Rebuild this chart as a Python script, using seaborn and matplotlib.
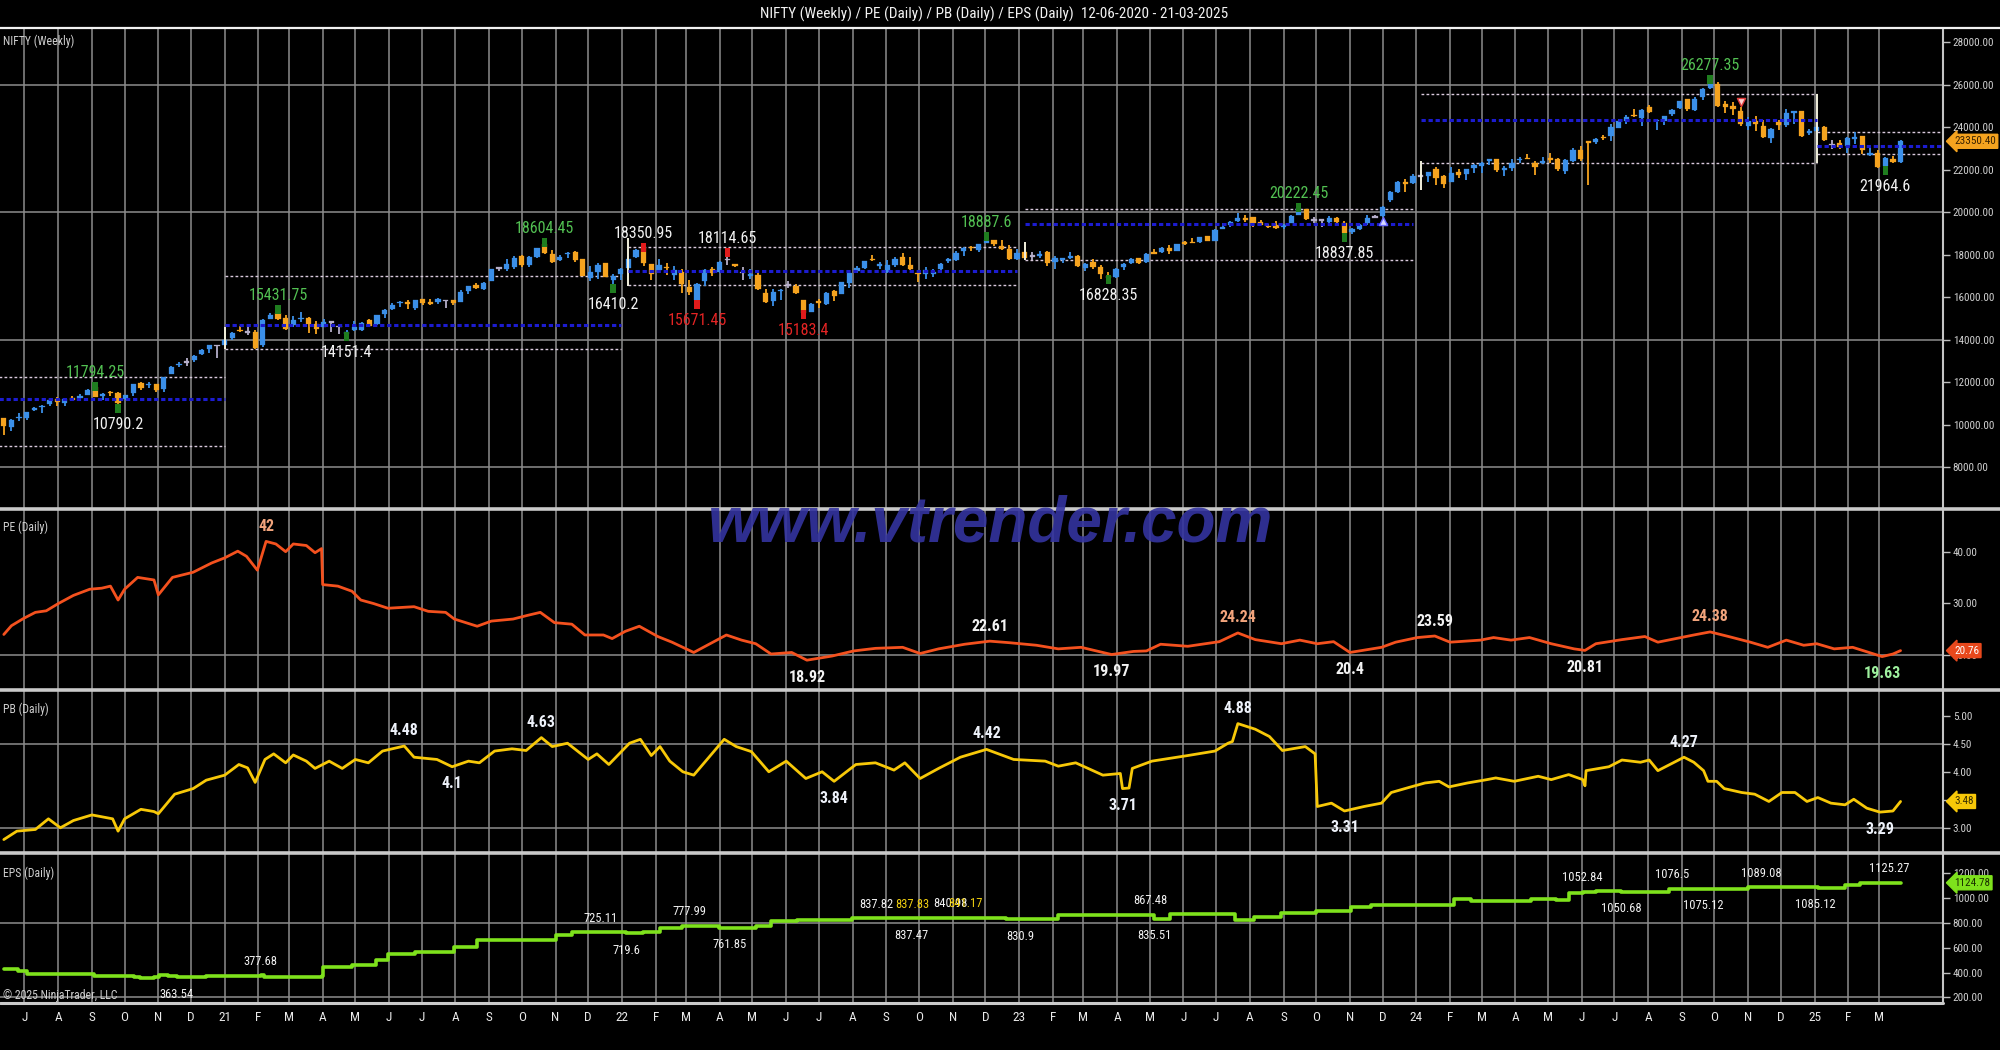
import numpy as np
import pandas as pd
import matplotlib
matplotlib.use("Agg")
import matplotlib.pyplot as plt
from matplotlib.lines import Line2D
from matplotlib.ticker import FuncFormatter
from matplotlib import font_manager
import seaborn as sns

# ------------------------------------------------------------------ data
title_text = "NIFTY (Weekly) / PE (Daily) / PB (Daily) / EPS (Daily)  12-06-2020 - 21-03-2025"
week_end = pd.date_range("2020-06-12", "2025-03-21", freq="7D")

week_open = [
    10326, 9919, 10318, 10311, 10723, 10851, 10999, 11225, 11057, 11270,
    11248, 11419, 11777, 11355, 11539, 11503, 11224, 11503, 11973, 11874,
    11937, 11697, 12399, 12829, 12960, 13062, 13356, 13562, 13741,
    13750, 14104, 14474, 14371, 14359, 13758, 14999, 15270, 15058, 14702,
    14999, 15048, 14736, 14628, 14837, 14644, 14306, 14449, 14481, 14928,
    14756, 15211, 15437, 15725, 15791, 15525, 15915, 15794, 15766, 15876,
    15874, 15776, 16302, 16578, 16382, 16775, 17400, 17363, 17443, 17962,
    17531, 17915, 18500, 18051, 17783, 18040, 18140, 17796, 16912, 17209,
    17619, 16824, 17086,
    17387, 17913, 18308, 17575, 17301, 17456, 17076, 17193, 16515, 15867,
    16757, 17329, 17181, 17810, 17576, 17183, 17006, 17062, 16227, 15845,
    16290, 16578, 16530, 15877, 15334, 15835, 15710, 16283, 16151, 16662,
    17243, 17401, 17797, 17491, 17188, 17546, 17890, 17540, 17156, 17102,
    17094, 17322, 17736, 17786, 18211, 18377, 18246, 18552, 18719, 18402,
    18288, 17831,
    18131, 17952, 17930, 18119, 17649, 17790, 17847, 17965, 17383, 17680,
    17421, 16985, 16978, 17428, 17634, 17863, 17653, 18124, 18121, 18339,
    18201, 18594, 18612, 18595, 18873, 18682, 19246, 19400, 19612, 19748,
    19784, 19576, 19383, 19393, 19298, 19525, 19890, 20155, 19675, 19622,
    19539, 19737, 19521, 19064, 19241, 19487, 19796, 19845, 20602, 20965,
    21434, 21365,
    21727, 21705, 22053, 21716, 21433, 21921, 21790, 22096, 22170, 22403,
    22517, 21990, 22097, 22455, 22579, 22339, 22337, 22568, 22513, 21931,
    22404, 22960, 23337, 23320, 23575, 23577, 23992, 24329, 24587, 24445,
    24943, 24303, 24320, 24636, 24906, 25333, 24823, 25426, 25872, 26061,
    25084, 25023, 24798, 24074, 24304, 24087, 23503, 24253, 24140, 24671,
    24753, 23738,
    23813, 24045, 23196, 23290, 23125, 23439, 23590, 22710, 22820, 22194,
    22521, 22353,
]
week_high = [
    10328, 10272, 10553, 10631, 10847, 10934, 11225, 11341, 11256, 11373,
    11460, 11686, 11794, 11493, 11618, 11535, 11428, 11938, 12025, 12018,
    11942, 12280, 12770, 12963, 13145, 13280, 13579, 13773, 13777,
    14049, 14367, 14653, 14753, 14491, 14974, 15257, 15432, 15176, 15111,
    15336, 15092, 14878, 14984, 14879, 14652, 14491, 14890, 14863, 14967,
    15189, 15469, 15733, 15835, 15901, 15870, 15915, 15915, 15962, 15881,
    15899, 16349, 16543, 16701, 16722, 17340, 17429, 17792, 17947, 17980,
    17941, 18350, 18604, 18242, 18012, 18123, 18210, 17805, 17489, 17639,
    17639, 17118, 17400,
    17944, 18286, 18351, 17599, 17794, 17639, 17490, 17351, 16815, 16694,
    17344, 17442, 17703, 18115, 17595, 17414, 17322, 17132, 16404, 16400,
    16414, 16794, 16644, 15886, 15749, 15927, 16275, 16355, 16752, 17172,
    17490, 17724, 17992, 17685, 17777, 17925, 18096, 17919, 17187, 17428,
    17348, 17607, 17838, 18175, 18362, 18442, 18534, 18888, 18728, 18696,
    18473, 18265,
    18251, 18127, 18183, 18201, 17972, 17881, 18134, 18004, 17644, 17799,
    17529, 17207, 17381, 17638, 17842, 17863, 18089, 18267, 18389, 18458,
    18508, 18662, 18777, 18864, 18887, 19201, 19523, 19595, 19991, 19867,
    19795, 19645, 19465, 19584, 19458, 19867, 20222, 20167, 19766, 19660,
    19849, 19781, 19593, 19276, 19463, 19875, 19876, 20291, 21006, 21492,
    21593, 21801,
    21834, 21928, 22124, 21750, 22127, 22053, 22069, 22297, 22353, 22526,
    22527, 22180, 22516, 22619, 22775, 22427, 22625, 22794, 22588, 22502,
    23026, 23110, 23338, 23490, 23667, 24174, 24401, 24592, 24854, 24861,
    25078, 24382, 24563, 24867, 25268, 25333, 25433, 25849, 26277, 26135,
    25234, 25212, 24978, 24498, 24537, 24336, 23956, 24354, 24857, 24793,
    24781, 23938,
    24226, 24089, 23391, 23426, 23546, 23807, 23596, 23050, 22922, 22633,
    22676, 23403,
]
week_low = [
    9544, 9728, 10194, 10223, 10677, 10562, 10916, 10882, 10882, 11111,
    11144, 11419, 11303, 11185, 11349, 10790, 11184, 11370, 11661, 11723,
    11535, 11557, 12384, 12730, 12790, 12962, 13291, 13402, 13131,
    13735, 14022, 14357, 14222, 13596, 13662, 14977, 14936, 14467, 14635,
    14865, 14350, 14264, 14617, 14359, 14273, 14151, 14416, 14416, 14591,
    14723, 15043, 15405, 15566, 15450, 15405, 15636, 15632, 15707, 15513,
    15660, 15776, 16162, 16395, 16376, 16764, 17254, 17269, 17338, 17452,
    17452, 17865, 18034, 17613, 17697, 17836, 17688, 17026, 16782, 16891,
    16966, 16410, 16833,
    17383, 17879, 17485, 16837, 17244, 17069, 16809, 16203, 16134, 15671,
    16555, 17007, 17135, 17506, 17442, 16824, 16888, 16340, 15735, 15601,
    15903, 16444, 16172, 15183, 15300, 15511, 15661, 15858, 16142, 16438,
    17154, 17359, 17710, 17345, 17166, 17429, 17499, 17291, 16747, 16855,
    16950, 17314, 17637, 17700, 17969, 18209, 18133, 18552, 18410, 18255,
    17779, 17774,
    17795, 17774, 17854, 17493, 17353, 17616, 17800, 17421, 17256, 17324,
    16850, 16828, 16940, 17313, 17597, 17553, 17612, 18042, 18116, 18060,
    18178, 18464, 18545, 18578, 18647, 18647, 19234, 19300, 19563, 19563,
    19296, 19412, 19257, 19229, 19223, 19491, 19865, 19657, 19492, 19333,
    19480, 19518, 18838, 18973, 19160, 19414, 19768, 19768, 20501, 20923,
    20976, 21329,
    21500, 21448, 21285, 21137, 21429, 21629, 21530, 21875, 21860, 22224,
    21905, 21710, 21947, 22350, 22503, 21777, 22305, 22348, 21932, 21821,
    22377, 22417, 21281, 23206, 23398, 23350, 23992, 24141, 24504, 24074,
    24686, 23893, 24100, 24532, 24859, 24753, 24753, 25285, 25835, 24966,
    24694, 24567, 24073, 23893, 23816, 23509, 23263, 23873, 24008, 24180,
    23537, 23647,
    23460, 23344, 22976, 22981, 22787, 23222, 22775, 22681, 22105, 21965,
    22314, 22315,
]
week_close = [
    9972, 10244, 10383, 10607, 10768, 10902, 11194, 11073, 11214, 11178,
    11371, 11647, 11333, 11464, 11505, 11050, 11417, 11914, 11762, 11930,
    11642, 12263, 12720, 12859, 12968, 13258, 13514, 13760, 13749,
    14018, 14347, 14433, 14371, 13634, 14924, 15163, 14981, 14529, 14938,
    15031, 14744, 14507, 14867, 14834, 14617, 14341, 14631, 14823, 14677,
    15175, 15435, 15670, 15799, 15683, 15860, 15722, 15690, 15924, 15856,
    15763, 16238, 16529, 16451, 16705, 17324, 17369, 17585, 17853, 17532,
    17895, 18338, 18114, 17671, 17916, 18102, 17765, 17026, 17196, 17511,
    16985, 17003, 17354,
    17812, 18255, 17617, 17102, 17516, 17375, 17276, 16658, 16245, 16630,
    17287, 17153, 17670, 17784, 17476, 17172, 17103, 16411, 15782, 16266,
    16352, 16584, 16202, 15293, 15699, 15752, 16220, 16049, 16719, 17158,
    17397, 17698, 17758, 17558, 17539, 17833, 17531, 17327, 17094, 17315,
    17186, 17576, 17787, 18117, 18350, 18308, 18512, 18696, 18496, 18269,
    17806, 18105,
    17859, 17956, 18027, 17604, 17854, 17856, 17944, 17465, 17594, 17413,
    17100, 16945, 17359, 17599, 17828, 17624, 18065, 18069, 18315, 18203,
    18499, 18534, 18563, 18826, 18665, 19189, 19331, 19564, 19745, 19646,
    19517, 19428, 19310, 19265, 19435, 19820, 20192, 19674, 19638, 19654,
    19751, 19542, 19047, 19230, 19425, 19732, 19795, 20267, 20970, 21457,
    21349, 21731,
    21711, 21895, 21622, 21353, 21854, 21783, 22041, 22213, 22339, 22494,
    22023, 22097, 22327, 22514, 22519, 22147, 22420, 22476, 22055, 22466,
    22957, 22531, 23290, 23465, 23501, 24010, 24323, 24502, 24530, 24834,
    24717, 24367, 24541, 24823, 25236, 24852, 25356, 25791, 26179, 25015,
    24964, 24854, 24181, 24304, 24148, 23533, 23907, 24131, 24677, 24768,
    23587, 23813,
    24005, 23431, 23203, 23092, 23508, 23560, 22929, 22795, 22125, 22553,
    22397, 23350.40,
]

# swing highs / lows marked on the chart
swing_dates = ["2020-09-04", "2020-09-25", "2021-02-19", "2021-04-23", "2021-10-22",
               "2021-12-24", "2022-01-21", "2022-03-11", "2022-04-08", "2022-06-17",
               "2022-12-02", "2023-03-24", "2023-09-15", "2023-10-27", "2024-09-27",
               "2025-03-07"]
swing_side = ["H", "L", "H", "L", "H", "L", "H", "L", "H", "L", "H", "L", "H", "L", "H", "L"]
swing_mark = ["g", "g", "g", "g", "g", "g", "r", "r", "r", "r", "g", "g", "g", "g", "g", "g"]
swing_text = ["11794.25", "10790.2", "15431.75", "14151.4", "18604.45", "16410.2",
              "18350.95", "15671.45", "18114.65", "15183.4", "18887.6", "16828.35",
              "20222.45", "18837.85", "26277.35", "21964.6"]
swing_text_col = ["g", "w", "g", "w", "g", "w", "w", "r", "w", "r", "g", "w", "g", "w", "g", "w"]

# yearly range boxes (top dotted, mid blue dashed, bottom dotted)
box_start = ["2020-06-08", "2021-01-01", "2022-01-07", "2023-01-06", "2024-01-05", "2025-01-03"]
box_end = ["2021-01-01", "2021-12-31", "2022-12-30", "2023-12-29", "2025-01-03", "2025-04-29"]
box_top = [12245, 17012, 18376, 20179, 25591, 23802]
box_mid = [11224, 14706, 17247, 19445, 24353, 23144]
box_bot = [9012, 13576, 16588, 17765, 22329, 22767]
edge_dates = ["2021-01-01", "2022-01-07", "2023-01-06", "2024-01-05", "2025-01-03"]
edge_low = [13576, 16541, 17765, 21059, 22329]
edge_high = [14612, 18800, 18600, 22424, 25591]
tri_up_date, tri_up_price = "2023-12-01", 19614
tri_dn_date, tri_dn_price = "2024-10-25", 25200

# PE (daily)
pe_dates = ["2020-06-12", "2020-06-19", "2020-06-30", "2020-07-11", "2020-07-21", "2020-08-01",
            "2020-08-15", "2020-08-30", "2020-09-10", "2020-09-18", "2020-09-25", "2020-10-01",
            "2020-10-13", "2020-10-28", "2020-11-01", "2020-11-14", "2020-12-03", "2020-12-20",
            "2021-01-01", "2021-01-13", "2021-01-21", "2021-01-31", "2021-02-08", "2021-02-17",
            "2021-02-26", "2021-03-05", "2021-03-17", "2021-03-25", "2021-03-31", "2021-04-01",
            "2021-04-15", "2021-04-28", "2021-05-06", "2021-05-18", "2021-05-31", "2021-06-24",
            "2021-07-07", "2021-07-23", "2021-07-31", "2021-08-21", "2021-09-03", "2021-09-23",
            "2021-10-06", "2021-10-18", "2021-10-31", "2021-11-16", "2021-11-28", "2021-12-15",
            "2021-12-23", "2022-01-04", "2022-01-17", "2022-02-03", "2022-02-16", "2022-03-08",
            "2022-03-23", "2022-04-07", "2022-04-21", "2022-05-04", "2022-05-18", "2022-06-06",
            "2022-06-20", "2022-07-13", "2022-08-02", "2022-08-22", "2022-09-16", "2022-10-02",
            "2022-10-19", "2022-11-12", "2022-12-05", "2022-12-23", "2023-01-17", "2023-02-06",
            "2023-02-27", "2023-03-27", "2023-04-16", "2023-04-28", "2023-05-11", "2023-06-05",
            "2023-07-04", "2023-07-21", "2023-08-06", "2023-08-30", "2023-09-16", "2023-10-02",
            "2023-10-17", "2023-11-01", "2023-11-30", "2023-12-13", "2024-01-02", "2024-01-18",
            "2024-02-01", "2024-02-29", "2024-03-12", "2024-03-28", "2024-04-14", "2024-05-04",
            "2024-05-25", "2024-06-04", "2024-06-14", "2024-07-08", "2024-07-29", "2024-08-10",
            "2024-09-12", "2024-09-27", "2024-10-14", "2024-11-03", "2024-11-19", "2024-12-06",
            "2024-12-22", "2025-01-03", "2025-01-19", "2025-02-05", "2025-03-04", "2025-03-14",
            "2025-03-21"]
pe_values = [23.9, 25.6, 27.0, 28.2, 28.5, 29.9,
             31.5, 32.7, 32.9, 33.3, 30.6, 32.7,
             35.0, 34.5, 31.6, 35.0, 36.0, 37.8,
             38.8, 40.1, 39.1, 36.4, 42.0, 41.5,
             40.0, 41.5, 41.2, 39.8, 40.6, 33.6,
             33.3, 32.3, 30.6, 29.9, 29.0, 29.3,
             28.4, 28.2, 26.9, 25.5, 26.5, 26.9,
             27.6, 28.2, 26.2, 25.9, 23.8, 23.8,
             23.1, 24.5, 25.5, 23.5, 22.4, 20.4,
             22.1, 23.8, 22.8, 22.1, 20.1, 20.4,
             18.9, 19.7, 20.7, 21.2, 21.4, 20.2,
             21.1, 22.0, 22.6, 22.3, 21.8, 21.1,
             21.4, 20.0, 20.6, 20.7, 22.0, 21.6,
             22.5, 24.2, 22.9, 22.1, 22.8, 22.1,
             22.5, 20.4, 21.4, 22.4, 23.3, 23.6,
             22.4, 22.8, 23.3, 22.8, 23.3, 22.1,
             21.1, 20.8, 22.1, 22.9, 23.5, 22.4,
             23.8, 24.4, 23.5, 22.4, 21.4, 22.8,
             21.8, 22.1, 21.1, 21.4, 19.6, 20.1,
             20.76]
pe_lab_dates = ["2021-02-08", "2022-06-20", "2022-12-05", "2023-03-27", "2023-07-21",
                "2023-11-01", "2024-01-18", "2024-06-04", "2024-09-27", "2025-03-04"]
pe_lab_vals = [42, 18.92, 22.61, 19.97, 24.24, 20.4, 23.59, 20.81, 24.38, 19.63]
pe_lab_text = ["42", "18.92", "22.61", "19.97", "24.24", "20.4", "23.59", "20.81", "24.38", "19.63"]
pe_lab_side = ["H", "L", "H", "L", "H", "L", "H", "L", "H", "L"]
pe_lab_col = ["s", "w", "w", "w", "s", "w", "w", "w", "s", "lg"]

# PB (daily)
pb_dates = ["2020-06-12", "2020-06-24", "2020-07-11", "2020-07-23", "2020-08-03", "2020-08-15",
            "2020-09-01", "2020-09-20", "2020-09-25", "2020-10-01", "2020-10-16", "2020-10-28",
            "2020-11-01", "2020-11-16", "2020-12-03", "2020-12-15", "2021-01-01", "2021-01-14",
            "2021-01-22", "2021-01-29", "2021-02-07", "2021-02-15", "2021-02-26", "2021-03-05",
            "2021-03-17", "2021-03-25", "2021-04-07", "2021-04-19", "2021-05-01", "2021-05-13",
            "2021-05-26", "2021-06-15", "2021-06-24", "2021-07-15", "2021-07-29", "2021-08-13",
            "2021-08-23", "2021-09-06", "2021-09-22", "2021-10-05", "2021-10-19", "2021-10-29",
            "2021-11-12", "2021-12-01", "2021-12-09", "2021-12-20", "2021-12-28", "2022-01-08",
            "2022-01-18", "2022-01-28", "2022-02-05", "2022-02-14", "2022-02-26", "2022-03-08",
            "2022-03-22", "2022-04-05", "2022-04-16", "2022-04-30", "2022-05-16", "2022-06-01",
            "2022-06-19", "2022-07-04", "2022-07-15", "2022-08-04", "2022-08-22", "2022-09-08",
            "2022-09-18", "2022-10-02", "2022-10-19", "2022-11-08", "2022-12-02", "2022-12-27",
            "2023-01-25", "2023-02-06", "2023-02-22", "2023-03-19", "2023-04-04", "2023-04-06",
            "2023-04-12", "2023-04-15", "2023-05-03", "2023-06-05", "2023-06-30", "2023-07-12",
            "2023-07-16", "2023-07-21", "2023-08-06", "2023-08-19", "2023-08-31", "2023-09-21",
            "2023-09-30", "2023-10-02", "2023-10-15", "2023-10-27", "2023-11-14", "2023-11-30",
            "2023-12-09", "2023-12-27", "2024-01-09", "2024-01-22", "2024-01-31", "2024-02-17",
            "2024-03-06", "2024-03-14", "2024-03-31", "2024-04-22", "2024-05-04", "2024-05-20",
            "2024-06-02", "2024-06-04", "2024-06-05", "2024-06-14", "2024-06-26", "2024-07-08",
            "2024-07-25", "2024-08-02", "2024-08-10", "2024-08-22", "2024-09-03", "2024-09-12",
            "2024-09-21", "2024-09-25", "2024-10-03", "2024-10-10", "2024-10-26", "2024-11-07",
            "2024-11-20", "2024-12-02", "2024-12-14", "2024-12-25", "2025-01-04", "2025-01-16",
            "2025-01-29", "2025-02-06", "2025-02-18", "2025-03-02", "2025-03-14", "2025-03-21"]
pb_values = [2.80, 2.95, 2.98, 3.17, 3.01, 3.14,
             3.24, 3.17, 2.95, 3.17, 3.34, 3.30,
             3.26, 3.61, 3.71, 3.86, 3.95, 4.14,
             4.08, 3.82, 4.23, 4.33, 4.17, 4.31,
             4.20, 4.07, 4.20, 4.07, 4.23, 4.17,
             4.38, 4.47, 4.27, 4.23, 4.10, 4.20,
             4.17, 4.38, 4.42, 4.39, 4.62, 4.46,
             4.52, 4.23, 4.33, 4.14, 4.30, 4.52,
             4.59, 4.30, 4.46, 4.20, 4.01, 3.95,
             4.27, 4.59, 4.46, 4.37, 4.01, 4.20,
             3.89, 4.01, 3.84, 4.14, 4.17, 4.04,
             4.17, 3.89, 4.07, 4.27, 4.41, 4.23,
             4.20, 4.11, 4.17, 3.95, 3.98, 3.71,
             3.72, 4.07, 4.20, 4.30, 4.38, 4.52,
             4.55, 4.87, 4.77, 4.64, 4.39, 4.46,
             4.33, 3.39, 3.45, 3.31, 3.39, 3.45,
             3.64, 3.74, 3.81, 3.84, 3.74, 3.81,
             3.87, 3.90, 3.84, 3.93, 3.87, 3.96,
             3.87, 3.76, 4.03, 4.06, 4.10, 4.22,
             4.18, 4.22, 4.03, 4.15, 4.27, 4.18,
             4.03, 3.84, 3.84, 3.71, 3.64, 3.61,
             3.48, 3.64, 3.64, 3.48, 3.55, 3.45,
             3.42, 3.52, 3.36, 3.29, 3.31, 3.48]
pb_lab_dates = ["2021-06-15", "2021-07-29", "2021-10-19", "2022-07-15", "2022-12-02",
                "2023-04-06", "2023-07-21", "2023-10-27", "2024-09-03", "2025-03-02"]
pb_lab_vals = [4.48, 4.10, 4.63, 3.84, 4.42, 3.71, 4.88, 3.31, 4.27, 3.29]
pb_lab_text = ["4.48", "4.1", "4.63", "3.84", "4.42", "3.71", "4.88", "3.31", "4.27", "3.29"]
pb_lab_side = ["H", "L", "H", "L", "H", "L", "H", "L", "H", "L"]

# EPS (daily)
eps_dates = ["2020-06-12", "2020-06-25", "2020-07-03", "2020-08-01", "2020-09-03", "2020-10-10",
             "2020-10-15", "2020-10-28", "2020-11-02", "2020-11-10", "2020-11-18", "2020-12-15",
             "2021-01-20", "2021-02-03", "2021-02-06", "2021-03-31", "2021-04-01", "2021-04-28",
             "2021-05-20", "2021-05-31", "2021-06-25", "2021-07-23", "2021-07-31", "2021-08-21",
             "2021-10-15", "2021-11-01", "2021-11-16", "2021-12-10", "2022-01-05", "2022-01-20",
             "2022-02-05", "2022-02-25", "2022-03-25", "2022-03-31", "2022-04-15", "2022-05-04",
             "2022-05-18", "2022-06-11", "2022-07-31", "2022-08-22", "2022-09-24", "2022-10-20",
             "2022-11-11", "2022-12-20", "2023-01-02", "2023-02-06", "2023-04-16", "2023-05-02",
             "2023-05-05", "2023-05-20", "2023-07-15", "2023-07-18", "2023-08-05", "2023-08-30",
             "2023-10-01", "2023-10-25", "2023-11-02", "2023-11-20", "2024-01-16", "2024-02-05",
             "2024-02-20", "2024-04-15", "2024-05-08", "2024-05-20", "2024-06-02", "2024-06-14",
             "2024-07-07", "2024-08-20", "2024-09-15", "2024-09-21", "2024-10-20", "2024-11-01",
             "2024-12-25", "2025-01-04", "2025-01-29", "2025-02-12", "2025-03-21"]
eps_values = [426, 410, 392, 385, 372, 366,
              360, 364, 378, 372, 364, 370,
              374, 378, 368, 369, 449, 463,
              505, 548, 563, 568, 605, 663,
              663, 705, 725, 725, 720, 728,
              757, 778, 778, 762, 764, 776,
              819, 825, 838, 838, 837.5, 840,
              841, 836, 831, 862, 862, 867.5,
              835.5, 876, 876, 821, 850, 882,
              899, 899, 933, 947, 947, 990,
              976, 990, 984, 1041, 1053, 1061,
              1051, 1076.5, 1076, 1075, 1076, 1089,
              1089, 1085, 1104, 1125, 1124.78]
eps_lab_dates = ["2021-02-03", "2020-11-18", "2021-12-12", "2022-01-05", "2022-03-04",
                 "2022-04-10", "2022-08-23", "2022-09-25", "2022-10-30", "2022-11-13",
                 "2022-09-24", "2023-01-02", "2023-05-02", "2023-05-05", "2024-06-02",
                 "2024-07-07", "2024-08-23", "2024-09-21", "2024-11-13", "2025-01-02",
                 "2025-03-11"]
eps_lab_vals = [377.68, 363.54, 725.11, 719.6, 777.99, 761.85, 837.82, 837.83, 840.98, 841.17,
                837.47, 830.9, 867.48, 835.51, 1052.84, 1050.68, 1076.5, 1075.12, 1089.08,
                1085.12, 1125.27]
eps_lab_text = ["377.68", "363.54", "725.11", "719.6", "777.99", "761.85", "837.82", "837.83",
                "840.98", "841.17", "837.47", "830.9", "867.48", "835.51", "1052.84", "1050.68",
                "1076.5", "1075.12", "1089.08", "1085.12", "1125.27"]
eps_lab_side = ["H", "L", "H", "L", "H", "L", "H", "H", "H", "H", "L", "L", "H", "L", "H",
                "L", "H", "L", "H", "L", "H"]
eps_lab_col = ["w", "w", "w", "w", "w", "w", "w", "y", "w", "y", "w", "w", "w", "w", "w",
               "w", "w", "w", "w", "w", "w"]

month_starts = pd.date_range("2020-07-01", "2025-03-01", freq="MS")
x_left, x_right = pd.Timestamp("2020-06-08 12:00"), pd.Timestamp("2025-04-29")

# ------------------------------------------------------------------ style
sns.set_theme(style="dark", rc={"axes.facecolor": "black", "figure.facecolor": "black",
                                "axes.grid": False, "savefig.facecolor": "black"})
avail = {f.name for f in font_manager.fontManager.ttflist}
NARROW = None
for cand in ["Liberation Sans Narrow", "Roboto Condensed", "DejaVu Sans Condensed",
             "Open Sans Condensed"]:
    if cand in avail:
        NARROW = cand
        break
SC = 1.0
if NARROW is None:
    NARROW = "Liberation Sans" if "Liberation Sans" in avail else "DejaVu Sans"
    SC = 0.84
plt.rcParams["font.family"] = [NARROW, "DejaVu Sans"]

BLUE, ORANGE, DOJI = "#3b8fe8", "#f5a31f", "#b5aec9"
MK_G, MK_R = "#1f7d1f", "#e01b1b"
TXT = {"g": "#52c052", "w": "#f2f2f2", "r": "#e42424", "s": "#f2a47c", "lg": "#9ef09e",
       "y": "#f0cf10"}
GRID = "#8c8c8c"
SEP = "#c9c9c9"
PE_COL, PB_COL, EPS_COL = "#f4511e", "#f7c808", "#7ee21c"

W, H = 2000, 1050
XR = 1943
fig = plt.figure(figsize=(W / 100, H / 100), dpi=100, facecolor="black")


def panel(top, bottom, share=None):
    ax = fig.add_axes([0, 1 - bottom / H, XR / W, (bottom - top) / H], sharex=share)
    ax.set_facecolor("black")
    return ax


P1, P2, P3, P4, P5 = 29, 509, 690, 853, 1003
ax1 = panel(P1, P2)
ax2 = panel(P2, P3, ax1)
ax3 = panel(P3, P4, ax1)
ax4 = panel(P4, P5, ax1)
axes = [ax1, ax2, ax3, ax4]

# ------------------------------------------------------------------ candles
o = np.array(week_open, float)
hi = np.array(week_high, float)
lo = np.array(week_low, float)
c = np.array(week_close, float)
diff = np.abs(c - o)
MIN_BODY = 70.0
is_doji = diff < 0.002 * c
col = np.where(is_doji, DOJI, np.where(c > o, BLUE, ORANGE))
body_h = np.maximum(diff, MIN_BODY)
body_b = np.where(diff < MIN_BODY, (o + c) / 2 - MIN_BODY / 2, np.minimum(o, c))
ax1.vlines(week_end, lo, hi, colors=col, lw=1.3, zorder=3)
ax1.bar(week_end, body_h, bottom=body_b, width=4.8, color=col, edgecolor=col, lw=0.2, zorder=3.2)

# range boxes
for s, e, t, m, b in zip(box_start, box_end, box_top, box_mid, box_bot):
    s, e = pd.Timestamp(s), pd.Timestamp(e)
    ax1.plot([s, e], [t, t], color="#d9c9dc", lw=1.0, ls=(0, (2.0, 1.6)), zorder=2)
    ax1.plot([s, e], [b, b], color="#d9c9dc", lw=1.0, ls=(0, (2.0, 1.6)), zorder=2)
    ax1.plot([s, e], [m, m], color="#1c1cd0", lw=2.2, ls=(0, (1.4, 0.9)), zorder=4)
ax1.vlines(pd.to_datetime(edge_dates), edge_low, edge_high, colors="#f2f0dc", lw=1.4, zorder=3.5)

# swing markers and labels
MARK_H = 430.0
for d, side, mk, txt, tc in zip(swing_dates, swing_side, swing_mark, swing_text, swing_text_col):
    i = week_end.get_loc(pd.Timestamp(d))
    v = hi[i] if side == "H" else lo[i]
    mc = MK_G if mk == "g" else MK_R
    ax1.bar(week_end[i], MARK_H, bottom=v - MARK_H / 2, width=5.0, color=mc, edgecolor=mc,
            linewidth=0, zorder=5)
    ax1.annotate(txt, xy=(week_end[i], v), xytext=(0, 14 if side == "H" else -16),
                 textcoords="offset pixels", ha="center", va="center", color=TXT[tc],
                 fontsize=11.5 * SC, zorder=7, annotation_clip=False)

ax1.scatter([pd.Timestamp(tri_up_date)], [tri_up_price], marker="^", s=34,
            facecolor="#d8d8ff", edgecolor="#6a6aff", lw=1.0, zorder=6)
ax1.scatter([pd.Timestamp(tri_dn_date)], [tri_dn_price], marker="v", s=34,
            facecolor="#ffd0d0", edgecolor="#e03a3a", lw=1.0, zorder=6)

# ------------------------------------------------------------------ lines (seaborn)
sns.lineplot(x=pd.to_datetime(pe_dates), y=pe_values, ax=ax2, color=PE_COL, linewidth=2.0,
             estimator=None, zorder=3)
sns.lineplot(x=pd.to_datetime(pb_dates), y=pb_values, ax=ax3, color=PB_COL, linewidth=2.0,
             estimator=None, zorder=3)
sns.lineplot(x=pd.to_datetime(eps_dates), y=eps_values, ax=ax4, color=EPS_COL, linewidth=2.6,
             estimator=None, drawstyle="steps-post", zorder=3)

for d, v, t, sd, cc in zip(pe_lab_dates, pe_lab_vals, pe_lab_text, pe_lab_side, pe_lab_col):
    ax2.annotate(t, xy=(pd.Timestamp(d), v), xytext=(0, 15 if sd == "H" else -17),
                 textcoords="offset pixels", ha="center", va="center", color=TXT[cc],
                 fontsize=11.5 * SC, fontweight="bold", zorder=7, annotation_clip=False)
for d, v, t, sd in zip(pb_lab_dates, pb_lab_vals, pb_lab_text, pb_lab_side):
    ax3.annotate(t, xy=(pd.Timestamp(d), v), xytext=(0, 15 if sd == "H" else -17),
                 textcoords="offset pixels", ha="center", va="center", color="#eef2fa",
                 fontsize=11.5 * SC, fontweight="bold", zorder=7, annotation_clip=False)
for d, v, t, sd, cc in zip(eps_lab_dates, eps_lab_vals, eps_lab_text, eps_lab_side, eps_lab_col):
    ax4.annotate(t, xy=(pd.Timestamp(d), v), xytext=(0, 14 if sd == "H" else -17),
                 textcoords="offset pixels", ha="center", va="center", color=TXT[cc],
                 fontsize=9 * SC, zorder=7, annotation_clip=False)

# ------------------------------------------------------------------ axes styling
ylims = [(6047, 28635), (13.1, 48.3), (2.56, 5.47), (155, 1365)]
yticks = [np.arange(8000, 28001, 2000), [20, 30, 40], [3.0, 3.5, 4.0, 4.5, 5.0],
          np.arange(200, 1201, 200)]
hgrid = [[8000, 14000, 20000, 26000], [20], [3.0, 4.5], [200, 800]]
for ax, yl, yt, hg in zip(axes, ylims, yticks, hgrid):
    ax.set_xlabel("")
    ax.set_ylabel("")
    ax.set_ylim(*yl)
    ax.set_yticks(yt)
    ax.yaxis.set_major_formatter(FuncFormatter(lambda v, p: f"{v:.2f}"))
    ax.yaxis.tick_right()
    ax.tick_params(axis="y", which="both", direction="out", length=5, width=1,
                   color="#bdbdbd", labelcolor="#cfcfcf", labelsize=8 * SC, pad=2,
                   left=False, right=True)
    for s in ["top", "bottom", "left"]:
        ax.spines[s].set_visible(False)
    ax.spines["right"].set_color("#c4c4c4")
    ax.spines["right"].set_linewidth(1.5)
    ax.set_xticks(month_starts)
    ax.tick_params(axis="x", length=0, labelbottom=False)
    for m in month_starts:
        ax.axvline(m, color=GRID, lw=1.1, zorder=0.5)
    for g in hg:
        ax.axhline(g, color=GRID, lw=1.1, zorder=0.5)
    ax.grid(False)

ax1.set_xlim(x_left, x_right)
month_labels = [f"{m.year % 100:02d}" if m.month == 1 else "JFMAMJJASOND"[m.month - 1]
                for m in month_starts]
ax4.set_xticks(month_starts)
ax4.set_xticklabels(month_labels)
ax4.tick_params(axis="x", length=0, labelbottom=True, labelcolor="#e8e8e8",
                labelsize=9.5 * SC, pad=6)

# panel names
for ax, name, dy in [(ax1, "NIFTY (Weekly)", -12), (ax2, "PE (Daily)", -18),
                     (ax3, "PB (Daily)", -19), (ax4, "EPS (Daily)", -20)]:
    ax.annotate(name, xy=(0, 1), xycoords="axes fraction", xytext=(3, dy),
                textcoords="offset pixels", ha="left", va="center", color="#cfcfcf",
                fontsize=8.5 * SC)
ax4.annotate("\u00a9 2025 NinjaTrader, LLC", xy=(0, 0), xycoords="axes fraction",
             xytext=(3, 7), textcoords="offset pixels", ha="left", va="center",
             color="#cfcfcf", fontsize=8.5 * SC)


# right-hand value tags
def tag(ax, v, fc, tc):
    ax.annotate(f"{v:.2f}", xy=(1, v), xycoords=("axes fraction", "data"), xytext=(11, 0),
                textcoords="offset pixels", ha="left", va="center", fontsize=8 * SC, color=tc,
                bbox=dict(boxstyle="larrow,pad=0.18", fc=fc, ec=fc), annotation_clip=False,
                zorder=10)


tag(ax1, week_close[-1], "#f5a31f", "#3a2200")
tag(ax2, pe_values[-1], "#e8481c", "#ffffff")
tag(ax3, pb_values[-1], "#f7c808", "#3a3000")
tag(ax4, eps_values[-1], "#7ee21c", "#1a3000")

# separators / frame
for ypx, x1, colr, lw in [(28, 1.0, "#f2f2f2", 1.6), (P2, 1.0, SEP, 2.6), (P3, 1.0, SEP, 2.6),
                          (P4, 1.0, SEP, 2.6), (P5, XR / W, SEP, 2.2)]:
    fig.add_artist(Line2D([0, x1], [1 - ypx / H] * 2, color=colr, lw=lw,
                          transform=fig.transFigure))

fig.text(994 / W, 1 - 14 / H, title_text, ha="center", va="center", color="#f2f2f2",
         fontsize=11 * SC)
fig.text(991 / W, 1 - 524 / H, "www.vtrender.com", ha="center", va="center",
         color="#3434a0", alpha=0.9, fontsize=46, fontweight="bold", fontstyle="italic",
         family=["Liberation Sans", "DejaVu Sans"], zorder=20)

fig.savefig("out.png", dpi=100, facecolor="black")
